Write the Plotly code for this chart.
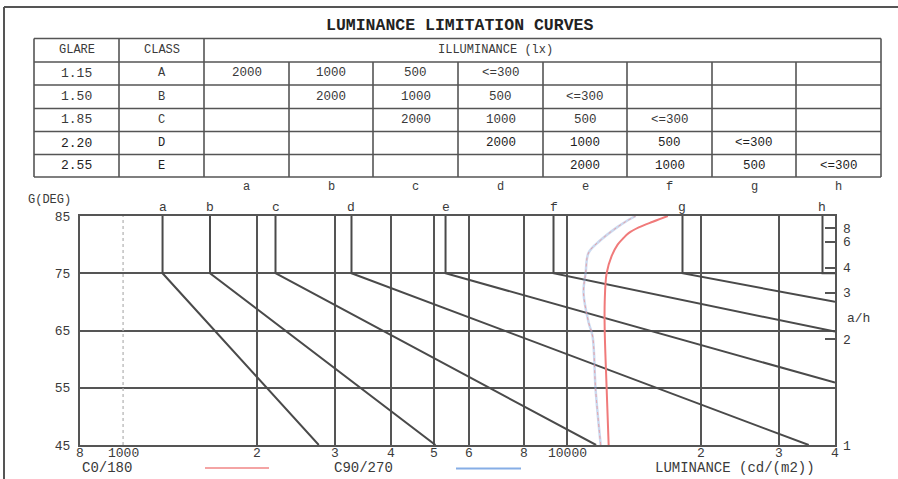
import numpy as np
import plotly.graph_objects as go

# ---------------- data ----------------
title = "LUMINANCE LIMITATION CURVES"
glare = ["1.15", "1.50", "1.85", "2.20", "2.55"]
classes = ["A", "B", "C", "D", "E"]
illum_levels = ["2000", "1000", "500", "<=300"]
curve_letters = ["a", "b", "c", "d", "e", "f", "g", "h"]

# limitation curves: luminance at 85..75 deg, then end point of sloped part
curve_L_top = [1227, 1569, 2203, 3266, 5317, 9303, 18150, 37490]
curve_L_end = [2757, 5047, 11600, 34910, 40000, 40000, 40000, 40000]
curve_deg_end = [45, 45, 45, 45, 55.9, 64.8, 70.0, 75]

# luminance curves of the luminaire
c0_deg = [45, 55, 65, 70, 75, 78, 80, 81, 82, 83, 84, 85]
c0_L = [12380, 12250, 12130, 12130, 12250, 12570, 12970, 13310, 13730, 14470, 15560, 16820]
c90_deg = [45, 54.7, 64, 66.4, 71.6, 75.1, 78.6, 80.8, 83.1, 84, 85]
c90_L = [11880, 11570, 11390, 11160, 10870, 10990, 11160, 11880, 12970, 13510, 14240]

x_tickvals = [800, 1000, 2000, 3000, 4000, 5000, 6000, 8000, 10000, 20000, 30000, 40000]
x_ticktext = ["8", "1000", "2", "3", "4", "5", "6", "8", "10000", "2", "3", "4"]
x_grid = [2000, 3000, 4000, 5000, 6000, 8000, 10000, 20000, 30000]
y_tickvals = [45, 55, 65, 75, 85]
ah_vals = [1, 2, 3, 4, 6, 8]

# ---------------- layout helpers ----------------
W, H = 898, 479
L, R, T, B = 80, 835, 216, 445
FONT = "Liberation Mono"
GRAY = "#555555"
TXT = "#3a3a3a"


def px(x):
    return (x - L) / (R - L)


def py(y):
    return (B - y) / (B - T)


fig = go.Figure()

# dotted 1000 line
fig.add_trace(go.Scatter(x=[1000, 1000], y=[45, 85], mode="lines",
                         line=dict(color="#b0b0b0", width=1.2, dash="dot"),
                         hoverinfo="skip", showlegend=False))

# limitation curves a..h
for i, name in enumerate(curve_letters):
    xs = [curve_L_top[i], curve_L_top[i], curve_L_end[i]]
    ys = [85, 75, curve_deg_end[i]]
    fig.add_trace(go.Scatter(x=xs, y=ys, mode="lines",
                             line=dict(color="#4a4a4a", width=2),
                             name=name, showlegend=False, cliponaxis=True))

# C90/270 (blue, with pinkish dotted overlay as in scan)
fig.add_trace(go.Scatter(x=c90_L, y=c90_deg, mode="lines", line_shape="spline",
                         line=dict(color="rgba(140,170,220,0.45)", width=2.5),
                         name="C90/270", showlegend=False))
fig.add_trace(go.Scatter(x=c90_L, y=c90_deg, mode="lines", line_shape="spline",
                         line=dict(color="rgba(240,140,140,0.75)", width=1, dash="dot"),
                         showlegend=False, hoverinfo="skip"))
# C0/180 (red)
fig.add_trace(go.Scatter(x=c0_L, y=c0_deg, mode="lines", line_shape="spline",
                         line=dict(color="#f07a7a", width=2),
                         name="C0/180", showlegend=False))

# right a/h axis helper trace
fig.add_trace(go.Scatter(x=[None], y=[None], yaxis="y2", showlegend=False))

fig.update_layout(
    width=W, height=H,
    margin=dict(l=L, r=W - R, t=T, b=H - B, pad=0),
    paper_bgcolor="white", plot_bgcolor="white",
    font=dict(family=FONT, color=TXT, size=13),
    showlegend=False,
    xaxis=dict(type="log", range=[np.log10(800), np.log10(40000)],
               tickvals=x_tickvals, ticktext=x_ticktext, showticklabels=False,
               showgrid=False, zeroline=False, ticks="",
               showline=True, mirror=True, linecolor=GRAY, linewidth=2,
               minor=dict(tickmode="array", tickvals=x_grid, showgrid=True,
                          gridcolor=GRAY, gridwidth=1.6, ticks="")),
    yaxis=dict(range=[45, 85], tickvals=y_tickvals,
               showgrid=True, gridcolor=GRAY, gridwidth=1.6, zeroline=False,
               showline=True, mirror=True, linecolor=GRAY, linewidth=2,
               ticks="outside", ticklen=5, tickcolor="white",
               tickfont=dict(family=FONT, size=13, color=TXT)),
    yaxis2=dict(overlaying="y", side="right", range=[45, 85],
                tickvals=[float(np.degrees(np.arctan(v))) for v in ah_vals],
                ticktext=[str(v) for v in ah_vals],
                ticks="inside", ticklen=10, tickcolor=GRAY, tickwidth=1.5,
                ticklabelstandoff=7,
                showgrid=False, zeroline=False, showline=False,
                tickfont=dict(family=FONT, size=13, color=TXT)),
)

shapes = []
ann = []


def hline(x0, x1, y, w=1.6, color=GRAY):
    shapes.append(dict(type="line", xref="paper", yref="paper",
                       x0=px(x0), x1=px(x1), y0=py(y), y1=py(y),
                       line=dict(color=color, width=w)))


def vline(x, y0, y1, w=1.6, color=GRAY):
    shapes.append(dict(type="line", xref="paper", yref="paper",
                       x0=px(x), x1=px(x), y0=py(y0), y1=py(y1),
                       line=dict(color=color, width=w)))


def text(x, y, s, size=13, anchor="center", bold=False, color=TXT):
    ann.append(dict(xref="paper", yref="paper", x=px(x), y=py(y),
                    text=("<b>%s</b>" % s) if bold else s, showarrow=False,
                    xanchor=anchor, yanchor="middle",
                    font=dict(family=FONT, size=size, color=color)))


# outer frame (left + top)
vline(4, 479, 7, w=2)
hline(4, 898, 7, w=2)

# title
text(459, 25, title, size=16.5, bold=True, color="#222222")

# table
col_x = [34, 119, 204, 289, 373, 458, 543, 627, 712, 796, 881]
row_y = [38.5, 62, 85, 108.5, 131.5, 154.5, 177]
for y in row_y:
    hline(col_x[0], col_x[-1], y)
for x in [col_x[0], col_x[1], col_x[2], col_x[-1]]:
    vline(x, row_y[0], row_y[-1])
for x in col_x[3:-1]:
    vline(x, row_y[1], row_y[-1])

hy = (row_y[0] + row_y[1]) / 2
text((col_x[0] + col_x[1]) / 2, hy, "GLARE", size=12)
text((col_x[1] + col_x[2]) / 2, hy, "CLASS", size=12)
text(495, hy, "ILLUMINANCE (lx)", size=12)

for r in range(5):
    cy = (row_y[r + 1] + row_y[r + 2]) / 2
    c = TXT if r < 3 else "#1e1e1e"
    text((col_x[0] + col_x[1]) / 2, cy, glare[r], size=13, color=c)
    text((col_x[1] + col_x[2]) / 2, cy, classes[r], size=12, color=c)
    for k, v in enumerate(illum_levels):
        ci = r + k
        text((col_x[2 + ci] + col_x[3 + ci]) / 2, cy, v, size=12.5, color=c)

for i, name in enumerate(curve_letters):
    text((col_x[2 + i] + col_x[3 + i]) / 2, 187, name, size=12)

# letters above plot at curve positions
for i, name in enumerate(curve_letters):
    ann.append(dict(xref="x", yref="paper", x=np.log10(curve_L_top[i]), y=py(207),
                    text=name, showarrow=False, xanchor="center", yanchor="middle",
                    font=dict(family=FONT, size=13, color=TXT)))

# x tick labels just under the axis
for v, t in zip(x_tickvals, x_ticktext):
    ann.append(dict(xref="x", yref="paper", x=np.log10(v), y=py(453),
                    text=t, showarrow=False, xanchor="center", yanchor="middle",
                    font=dict(family=FONT, size=13, color=TXT)))

text(26, 200, "G(DEG)", size=12, anchor="left")
text(845, 318, "a/h", size=13, anchor="left")

# bottom legend row
text(80, 468, "C0/180", size=14, anchor="left")
hline(205, 269, 468, w=2.2, color="#f4a4a4")
text(332, 468, "C90/270", size=14, anchor="left")
hline(456, 521, 468.5, w=2.2, color="#86aee6")
text(653, 468, "LUMINANCE (cd/(m2))", size=14, anchor="left")

fig.update_layout(shapes=shapes, annotations=ann)
fig.write_html("out.html", config={"displayModeBar": False},
               post_script="document.body.style.margin='0';")
